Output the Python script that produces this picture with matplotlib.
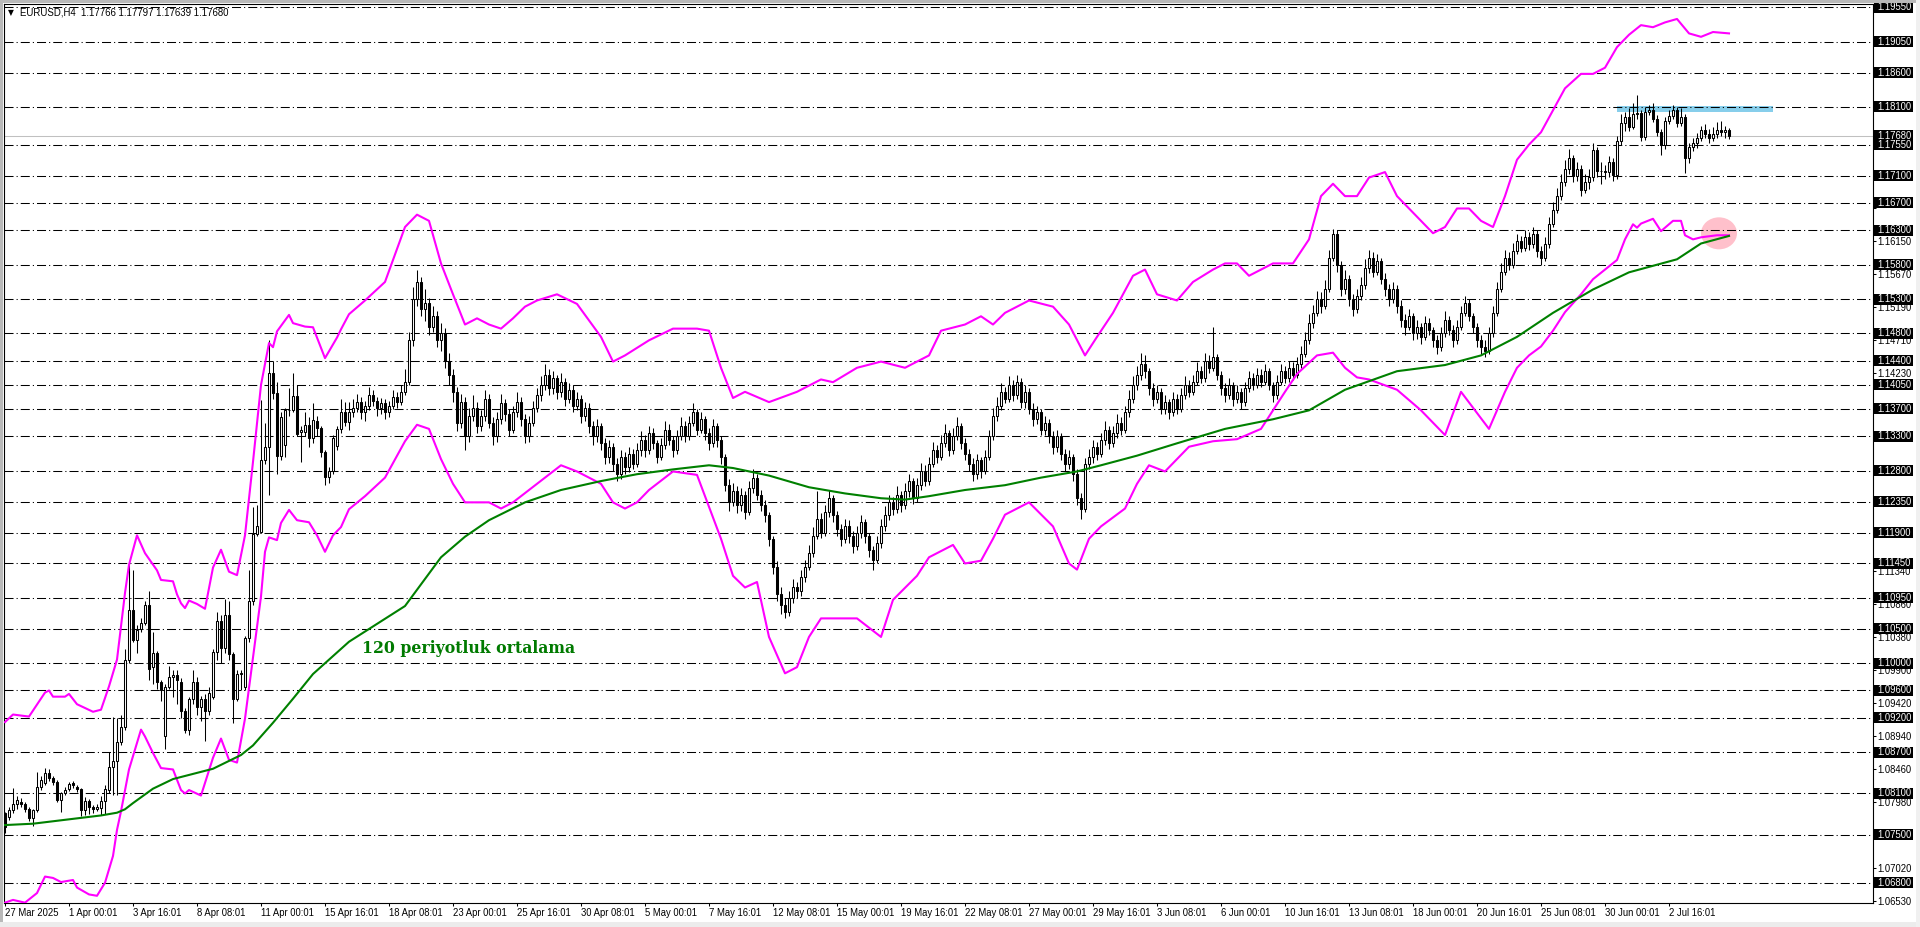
import matplotlib
matplotlib.use("Agg")
import matplotlib.pyplot as plt
from matplotlib.patches import Rectangle, Ellipse
from matplotlib.collections import LineCollection

plt.rcParams['font.family'] = ['Liberation Sans', 'DejaVu Sans']
plt.rcParams['lines.scale_dashes'] = False

# ---------------- data ----------------
SYMBOL = "EURUSD,H4"
LAST_OHLC = ["1.17766", "1.17797", "1.17639", "1.17680"]

OPEN = [
1.0781,1.0776,1.0786,1.0795,1.0797,1.0794,1.0787,1.0775,1.0786,1.0820,
1.0825,1.0840,1.0832,1.0826,1.0801,1.0811,1.0816,1.0825,1.0820,1.0816,
1.0786,1.0799,1.0790,1.0788,1.0789,1.0799,1.0815,1.0849,1.0858,1.0885,
1.0907,1.1004,1.1077,1.1033,1.1049,1.1059,1.1084,1.0994,1.1014,1.0972,
1.0893,1.0965,1.0980,1.0983,1.0972,1.0930,1.0903,1.0948,1.0972,1.0936,
1.0948,1.0930,1.0950,1.1016,1.1061,1.1022,1.1070,1.1013,1.0948,1.0984,
1.0965,1.1037,1.1091,1.1188,1.1191,1.1296,1.1314,1.1423,1.1393,1.1301,
1.1317,1.1368,1.1368,1.1389,1.1336,1.1337,1.1347,1.1328,1.1353,1.1343,
1.1307,1.1271,1.1280,1.1316,1.1341,1.1366,1.1351,1.1366,1.1372,1.1380,
1.1365,1.1374,1.1390,1.1382,1.1371,1.1378,1.1366,1.1375,1.1388,1.1380,
1.1395,1.1410,1.1470,1.1530,1.1555,1.1515,1.1525,1.1490,1.1505,1.1470,
1.1480,1.1440,1.1420,1.1395,1.1350,1.1380,1.1330,1.1360,1.1372,1.1345,
1.1360,1.1385,1.1350,1.1330,1.1355,1.1378,1.1362,1.1340,1.1365,1.1380,
1.1355,1.1330,1.1350,1.1372,1.1390,1.1405,1.1420,1.1400,1.1415,1.1395,
1.1410,1.1385,1.1398,1.1375,1.1385,1.1360,1.1372,1.1345,1.1330,1.1345,
1.1320,1.1300,1.1315,1.1290,1.1275,1.1300,1.1285,1.1305,1.1290,1.1310,
1.1325,1.1310,1.1335,1.1320,1.1300,1.1318,1.1340,1.1325,1.1310,1.1330,
1.1345,1.1330,1.1350,1.1365,1.1340,1.1355,1.1335,1.1320,1.1345,1.1325,
1.1300,1.1260,1.1235,1.1250,1.1230,1.1245,1.1220,1.1255,1.1270,1.1245,
1.1230,1.1215,1.1180,1.1140,1.1100,1.1085,1.1075,1.1095,1.1110,1.1105,
1.1125,1.1140,1.1160,1.1185,1.1210,1.1190,1.1220,1.1240,1.1215,1.1195,
1.1180,1.1200,1.1185,1.1170,1.1190,1.1205,1.1185,1.1165,1.1150,1.1175,
1.1200,1.1215,1.1235,1.1225,1.1245,1.1230,1.1250,1.1265,1.1240,1.1260,
1.1280,1.1265,1.1290,1.1310,1.1300,1.1320,1.1335,1.1310,1.1330,1.1345,
1.1320,1.1305,1.1290,1.1275,1.1295,1.1280,1.1300,1.1330,1.1360,1.1375,
1.1395,1.1385,1.1405,1.1390,1.1410,1.1380,1.1395,1.1370,1.1355,1.1365,
1.1340,1.1350,1.1330,1.1315,1.1330,1.1305,1.1290,1.1300,1.1275,1.1240,
1.1225,1.1290,1.1300,1.1315,1.1305,1.1325,1.1340,1.1320,1.1335,1.1350,
1.1340,1.1365,1.1385,1.1405,1.1420,1.1435,1.1425,1.1400,1.1385,1.1395,
1.1370,1.1380,1.1365,1.1385,1.1370,1.1390,1.1405,1.1395,1.1410,1.1425,
1.1415,1.1440,1.1430,1.1445,1.1420,1.1400,1.1390,1.1405,1.1385,1.1395,
1.1380,1.1400,1.1415,1.1405,1.1420,1.1410,1.1425,1.1405,1.1390,1.1410,
1.1425,1.1415,1.1430,1.1420,1.1435,1.1450,1.1470,1.1495,1.1510,1.1530,
1.1520,1.1545,1.1590,1.1625,1.1580,1.1545,1.1560,1.1530,1.1515,1.1535,
1.1550,1.1575,1.1590,1.1570,1.1585,1.1560,1.1545,1.1530,1.1545,1.1520,
1.1500,1.1490,1.1505,1.1480,1.1490,1.1475,1.1495,1.1485,1.1470,1.1460,
1.1480,1.1500,1.1485,1.1470,1.1490,1.1510,1.1525,1.1505,1.1490,1.1470,
1.1460,1.1455,1.1480,1.1510,1.1545,1.1570,1.1590,1.1580,1.1600,1.1615,
1.1605,1.1620,1.1610,1.1625,1.1600,1.1590,1.1610,1.1640,1.1660,1.1680,
1.1700,1.1720,1.1735,1.1710,1.1720,1.1689,1.1700,1.1708,1.1747,1.1717,
1.1716,1.1715,1.1730,1.1711,1.1761,1.1786,1.1795,1.1781,1.1799,1.1801,
1.1766,1.1803,1.1806,1.1793,1.1774,1.1754,1.1789,1.1796,1.1806,1.1786,
1.1795,1.1736,1.1752,1.1757,1.1764,1.1777,1.1771,1.1765,1.1770,1.1777,
1.1774,1.17766]

HIGH = [
1.0783,1.0790,1.0818,1.0807,1.0803,1.0797,1.0790,1.0788,1.0842,1.0835,
1.0847,1.0845,1.0835,1.0830,1.0812,1.0820,1.0826,1.0828,1.0823,1.0818,
1.0805,1.0802,1.0793,1.0794,1.0806,1.0822,1.0870,1.0922,1.0920,1.0925,
1.1020,1.1144,1.1135,1.1055,1.1065,1.1090,1.1105,1.1045,1.1018,1.0975,
1.0970,1.0995,1.0990,1.0990,1.0978,1.0935,1.0950,1.0990,1.0980,1.0952,
1.0955,1.0965,1.1020,1.1075,1.1070,1.1093,1.1090,1.1016,1.0990,1.0990,
1.1040,1.1135,1.1227,1.1230,1.1383,1.1350,1.1471,1.1440,1.1410,1.1365,
1.1372,1.1400,1.1423,1.1405,1.1345,1.1365,1.1358,1.1378,1.1360,1.1345,
1.1310,1.1285,1.1332,1.1345,1.1385,1.1380,1.1380,1.1385,1.1392,1.1388,
1.1381,1.1402,1.1398,1.1388,1.1386,1.1384,1.1382,1.1398,1.1395,1.1405,
1.1428,1.1482,1.1548,1.1572,1.1562,1.1545,1.1532,1.1520,1.1512,1.1495,
1.1488,1.1452,1.1428,1.1402,1.1392,1.1388,1.1372,1.1390,1.1380,1.1368,
1.1398,1.1392,1.1358,1.1365,1.1392,1.1385,1.1370,1.1375,1.1395,1.1388,
1.1362,1.1360,1.1382,1.1400,1.1418,1.1435,1.1428,1.1425,1.1420,1.1422,
1.1415,1.1408,1.1405,1.1395,1.1390,1.1380,1.1378,1.1352,1.1355,1.1350,
1.1328,1.1325,1.1320,1.1298,1.1310,1.1308,1.1315,1.1312,1.1320,1.1338,
1.1332,1.1345,1.1342,1.1325,1.1328,1.1352,1.1348,1.1330,1.1340,1.1358,
1.1352,1.1360,1.1378,1.1370,1.1365,1.1360,1.1342,1.1355,1.1350,1.1330,
1.1305,1.1268,1.1262,1.1258,1.1255,1.1250,1.1265,1.1282,1.1275,1.1252,
1.1238,1.1220,1.1185,1.1148,1.1110,1.1095,1.1105,1.1122,1.1118,1.1135,
1.1150,1.1172,1.1198,1.1250,1.1218,1.1230,1.1252,1.1245,1.1222,1.1202,
1.1210,1.1208,1.1192,1.1200,1.1215,1.1210,1.1190,1.1170,1.1185,1.1210,
1.1228,1.1245,1.1242,1.1258,1.1250,1.1262,1.1275,1.1270,1.1270,1.1292,
1.1288,1.1300,1.1322,1.1318,1.1332,1.1348,1.1340,1.1342,1.1358,1.1350,
1.1328,1.1312,1.1298,1.1305,1.1300,1.1310,1.1340,1.1372,1.1388,1.1408,
1.1402,1.1418,1.1412,1.1420,1.1415,1.1405,1.1400,1.1378,1.1375,1.1370,
1.1360,1.1355,1.1338,1.1340,1.1335,1.1312,1.1310,1.1305,1.1282,1.1248,
1.1298,1.1312,1.1325,1.1322,1.1335,1.1352,1.1345,1.1345,1.1362,1.1358,
1.1375,1.1398,1.1418,1.1432,1.1452,1.1448,1.1430,1.1408,1.1405,1.1400,
1.1390,1.1385,1.1395,1.1392,1.1400,1.1418,1.1412,1.1420,1.1438,1.1432,
1.1452,1.1448,1.1490,1.1450,1.1425,1.1408,1.1415,1.1410,1.1405,1.1400,
1.1410,1.1425,1.1422,1.1430,1.1428,1.1435,1.1430,1.1410,1.1420,1.1435,
1.1432,1.1440,1.1438,1.1445,1.1462,1.1482,1.1508,1.1522,1.1542,1.1540,
1.1558,1.1602,1.1632,1.1630,1.1585,1.1572,1.1565,1.1538,1.1545,1.1562,
1.1588,1.1602,1.1598,1.1595,1.1590,1.1568,1.1552,1.1555,1.1550,1.1528,
1.1508,1.1515,1.1510,1.1500,1.1495,1.1505,1.1502,1.1490,1.1478,1.1490,
1.1512,1.1505,1.1492,1.1500,1.1520,1.1535,1.1530,1.1510,1.1495,1.1478,
1.1470,1.1490,1.1520,1.1555,1.1582,1.1602,1.1598,1.1612,1.1625,1.1622,
1.1630,1.1628,1.1635,1.1630,1.1608,1.1620,1.1650,1.1672,1.1692,1.1712,
1.1732,1.1748,1.1740,1.1730,1.1725,1.1712,1.1720,1.1758,1.1752,1.1730,
1.1725,1.1738,1.1735,1.1768,1.1800,1.1803,1.1808,1.1815,1.1827,1.1805,
1.1810,1.1812,1.1815,1.1798,1.1778,1.1795,1.1805,1.1813,1.1810,1.1808,
1.1800,1.1758,1.1765,1.1772,1.1782,1.1785,1.1778,1.1780,1.1788,1.1790,
1.1782,1.17797]

LOW = [
1.0752,1.0771,1.0781,1.0788,1.0790,1.0783,1.0770,1.0762,1.0783,1.0815,
1.0822,1.0828,1.0822,1.0798,1.0783,1.0808,1.0813,1.0818,1.0812,1.0777,
1.0778,1.0780,1.0782,1.0785,1.0779,1.0780,1.0810,1.0808,1.0808,1.0880,
1.0903,1.1000,1.1030,1.1015,1.1045,1.1055,1.0975,1.0970,1.0962,1.0945,
1.0875,1.0962,1.0950,1.0940,1.0920,1.0898,1.0895,1.0940,1.0925,1.0915,
1.0887,1.0925,1.0948,1.1005,1.1000,1.1015,1.1005,1.0913,1.0945,1.0960,
1.0960,1.1030,1.1085,1.1185,1.1189,1.1290,1.1245,1.1385,1.1275,1.1295,
1.1300,1.1360,1.1365,1.1330,1.1293,1.1330,1.1315,1.1320,1.1330,1.1300,
1.1260,1.1262,1.1275,1.1310,1.1335,1.1345,1.1340,1.1358,1.1365,1.1355,
1.1352,1.1368,1.1375,1.1360,1.1362,1.1355,1.1358,1.1370,1.1372,1.1376,
1.1390,1.1405,1.1462,1.1520,1.1505,1.1498,1.1478,1.1482,1.1460,1.1455,
1.1430,1.1405,1.1380,1.1338,1.1342,1.1310,1.1322,1.1352,1.1335,1.1338,
1.1352,1.1342,1.1318,1.1322,1.1348,1.1352,1.1330,1.1335,1.1358,1.1345,
1.1320,1.1322,1.1345,1.1365,1.1382,1.1398,1.1390,1.1392,1.1385,1.1388,
1.1375,1.1378,1.1365,1.1368,1.1350,1.1352,1.1335,1.1318,1.1322,1.1310,
1.1290,1.1292,1.1280,1.1265,1.1268,1.1275,1.1278,1.1282,1.1285,1.1302,
1.1300,1.1305,1.1312,1.1292,1.1295,1.1312,1.1318,1.1300,1.1305,1.1325,
1.1322,1.1325,1.1345,1.1332,1.1335,1.1325,1.1310,1.1315,1.1315,1.1290,
1.1250,1.1222,1.1228,1.1218,1.1222,1.1210,1.1215,1.1248,1.1238,1.1222,
1.1205,1.1170,1.1130,1.1090,1.1072,1.1065,1.1068,1.1088,1.1095,1.1098,
1.1118,1.1135,1.1155,1.1180,1.1182,1.1185,1.1212,1.1205,1.1185,1.1170,
1.1175,1.1175,1.1160,1.1165,1.1182,1.1175,1.1155,1.1135,1.1145,1.1168,
1.1192,1.1208,1.1215,1.1218,1.1220,1.1225,1.1242,1.1232,1.1235,1.1252,
1.1258,1.1260,1.1285,1.1292,1.1295,1.1315,1.1302,1.1305,1.1325,1.1312,
1.1295,1.1280,1.1265,1.1268,1.1270,1.1275,1.1295,1.1325,1.1352,1.1368,
1.1378,1.1380,1.1382,1.1385,1.1372,1.1372,1.1362,1.1345,1.1348,1.1332,
1.1332,1.1320,1.1305,1.1308,1.1295,1.1280,1.1282,1.1265,1.1230,1.1210,
1.1220,1.1282,1.1292,1.1295,1.1300,1.1318,1.1312,1.1315,1.1328,1.1332,
1.1335,1.1358,1.1378,1.1398,1.1412,1.1415,1.1390,1.1375,1.1378,1.1362,
1.1362,1.1355,1.1360,1.1362,1.1365,1.1385,1.1388,1.1390,1.1405,1.1408,
1.1410,1.1422,1.1425,1.1412,1.1390,1.1380,1.1385,1.1375,1.1378,1.1370,
1.1375,1.1395,1.1398,1.1400,1.1402,1.1405,1.1398,1.1380,1.1385,1.1405,
1.1408,1.1410,1.1412,1.1415,1.1430,1.1445,1.1465,1.1488,1.1505,1.1510,
1.1515,1.1540,1.1585,1.1570,1.1535,1.1538,1.1520,1.1505,1.1510,1.1528,
1.1545,1.1568,1.1562,1.1565,1.1552,1.1535,1.1520,1.1525,1.1510,1.1490,
1.1478,1.1485,1.1470,1.1472,1.1465,1.1470,1.1478,1.1460,1.1450,1.1455,
1.1475,1.1478,1.1460,1.1465,1.1485,1.1505,1.1498,1.1480,1.1460,1.1450,
1.1445,1.1450,1.1475,1.1505,1.1540,1.1565,1.1572,1.1575,1.1595,1.1598,
1.1600,1.1602,1.1605,1.1592,1.1580,1.1585,1.1605,1.1635,1.1655,1.1675,
1.1695,1.1712,1.1700,1.1702,1.1680,1.1684,1.1690,1.1702,1.1708,1.1698,
1.1705,1.1708,1.1702,1.1705,1.1755,1.1775,1.1775,1.1778,1.1792,1.1760,
1.1762,1.1798,1.1788,1.1768,1.1740,1.1748,1.1785,1.1792,1.1780,1.1782,
1.1714,1.1728,1.1745,1.1750,1.1760,1.1765,1.1758,1.1760,1.1765,1.1768,
1.1765,1.17639]

CLOSE = [
1.0761,1.0786,1.0795,1.0800,1.0794,1.0787,1.0775,1.0786,1.0820,1.0829,
1.0840,1.0832,1.0826,1.0801,1.0810,1.0815,1.0824,1.0822,1.0816,1.0786,
1.0799,1.0790,1.0788,1.0790,1.0799,1.0817,1.0849,1.0858,1.0885,1.0907,
1.1004,1.1077,1.1033,1.1048,1.1059,1.1085,1.0992,1.1014,1.0972,1.0961,
1.0965,1.0980,1.0983,1.0976,1.0930,1.0903,1.0948,1.0972,1.0936,1.0948,
1.0930,1.0957,1.1016,1.1061,1.1022,1.1070,1.1013,1.0948,1.0984,1.0985,
1.1037,1.1091,1.1188,1.1200,1.1296,1.1314,1.1423,1.1393,1.1301,1.1359,
1.1368,1.1369,1.1389,1.1334,1.1340,1.1347,1.1328,1.1354,1.1343,1.1307,
1.1271,1.1280,1.1328,1.1341,1.1366,1.1351,1.1366,1.1372,1.1380,1.1365,
1.1374,1.1390,1.1382,1.1371,1.1378,1.1366,1.1375,1.1388,1.1380,1.1395,
1.1410,1.1470,1.1530,1.1555,1.1515,1.1525,1.1490,1.1505,1.1470,1.1480,
1.1440,1.1420,1.1395,1.1350,1.1380,1.1330,1.1360,1.1372,1.1345,1.1360,
1.1385,1.1350,1.1330,1.1355,1.1378,1.1362,1.1340,1.1365,1.1380,1.1355,
1.1330,1.1350,1.1372,1.1390,1.1405,1.1420,1.1400,1.1415,1.1395,1.1410,
1.1385,1.1398,1.1375,1.1385,1.1360,1.1372,1.1345,1.1330,1.1345,1.1320,
1.1300,1.1315,1.1290,1.1275,1.1300,1.1285,1.1305,1.1290,1.1310,1.1325,
1.1310,1.1335,1.1320,1.1300,1.1318,1.1340,1.1325,1.1310,1.1330,1.1345,
1.1330,1.1350,1.1365,1.1340,1.1355,1.1335,1.1320,1.1345,1.1325,1.1300,
1.1260,1.1235,1.1250,1.1230,1.1245,1.1220,1.1255,1.1270,1.1245,1.1230,
1.1215,1.1180,1.1140,1.1100,1.1085,1.1075,1.1095,1.1110,1.1105,1.1125,
1.1140,1.1160,1.1185,1.1210,1.1190,1.1220,1.1240,1.1215,1.1195,1.1180,
1.1200,1.1185,1.1170,1.1190,1.1205,1.1185,1.1165,1.1150,1.1175,1.1200,
1.1215,1.1235,1.1225,1.1245,1.1230,1.1250,1.1265,1.1240,1.1260,1.1280,
1.1265,1.1290,1.1310,1.1300,1.1320,1.1335,1.1310,1.1330,1.1345,1.1320,
1.1305,1.1290,1.1275,1.1295,1.1280,1.1300,1.1330,1.1360,1.1375,1.1395,
1.1385,1.1405,1.1390,1.1410,1.1380,1.1395,1.1370,1.1355,1.1365,1.1340,
1.1350,1.1330,1.1315,1.1330,1.1305,1.1290,1.1300,1.1275,1.1240,1.1225,
1.1290,1.1300,1.1315,1.1305,1.1325,1.1340,1.1320,1.1335,1.1350,1.1340,
1.1365,1.1385,1.1405,1.1420,1.1435,1.1425,1.1400,1.1385,1.1395,1.1370,
1.1380,1.1365,1.1385,1.1370,1.1390,1.1405,1.1395,1.1410,1.1425,1.1415,
1.1440,1.1430,1.1445,1.1420,1.1400,1.1390,1.1405,1.1385,1.1395,1.1380,
1.1400,1.1415,1.1405,1.1420,1.1410,1.1425,1.1405,1.1390,1.1410,1.1425,
1.1415,1.1430,1.1420,1.1435,1.1450,1.1470,1.1495,1.1510,1.1530,1.1520,
1.1545,1.1590,1.1625,1.1580,1.1545,1.1560,1.1530,1.1515,1.1535,1.1550,
1.1575,1.1590,1.1570,1.1585,1.1560,1.1545,1.1530,1.1545,1.1520,1.1500,
1.1490,1.1505,1.1480,1.1490,1.1475,1.1495,1.1485,1.1470,1.1460,1.1480,
1.1500,1.1485,1.1470,1.1490,1.1510,1.1525,1.1505,1.1490,1.1470,1.1460,
1.1455,1.1480,1.1510,1.1545,1.1570,1.1590,1.1580,1.1600,1.1615,1.1605,
1.1620,1.1610,1.1625,1.1600,1.1590,1.1610,1.1640,1.1660,1.1680,1.1700,
1.1720,1.1735,1.1710,1.1720,1.1689,1.1700,1.1708,1.1747,1.1717,1.1716,
1.1715,1.1730,1.1711,1.1761,1.1786,1.1795,1.1781,1.1799,1.1801,1.1766,
1.1803,1.1806,1.1793,1.1774,1.1754,1.1789,1.1796,1.1806,1.1786,1.1795,
1.1736,1.1752,1.1757,1.1764,1.1777,1.1771,1.1765,1.1770,1.1777,1.1774,
1.1777,1.1768]

# time-axis labels, one every 16 bars
TIME_LABELS = ["27 Mar 2025", "1 Apr 00:01", "3 Apr 16:01", "8 Apr 08:01", "11 Apr 00:01",
               "15 Apr 16:01", "18 Apr 08:01", "23 Apr 00:01", "25 Apr 16:01", "30 Apr 08:01",
               "5 May 00:01", "7 May 16:01", "12 May 08:01", "15 May 00:01", "19 May 16:01",
               "22 May 08:01", "27 May 00:01", "29 May 16:01", "3 Jun 08:01", "6 Jun 00:01",
               "10 Jun 16:01", "13 Jun 08:01", "18 Jun 00:01", "20 Jun 16:01", "25 Jun 08:01",
               "30 Jun 00:01", "2 Jul 16:01"]
LABEL_EVERY = 16

# price-scale ticks
PRICE_TICKS = [1.06530, 1.07020, 1.07500, 1.07980, 1.08460, 1.08940, 1.09420, 1.09900,
               1.10380, 1.10860, 1.11340, 1.11830, 1.12310, 1.12790, 1.13270, 1.13750,
               1.14230, 1.14710, 1.15190, 1.15670, 1.16150, 1.16630, 1.17110, 1.17590,
               1.18070, 1.18550, 1.19030, 1.19510]

# horizontal levels drawn on the chart
LEVELS = [1.19550, 1.19050, 1.18600, 1.18100, 1.17550, 1.17100, 1.16700, 1.16300,
          1.15800, 1.15300, 1.14800, 1.14400, 1.14050, 1.13700, 1.13300, 1.12800,
          1.12350, 1.11900, 1.11450, 1.10950, 1.10500, 1.10000, 1.09600, 1.09200,
          1.08700, 1.08100, 1.07500, 1.06800]
BID = 1.17680

# 120-period moving average (bar index, price)
MA_X = [0, 7, 24, 28, 30, 32, 37, 42, 52, 59, 62, 67, 72, 77, 86, 100, 109, 115, 121, 130,
        139, 149, 158, 167, 176, 182, 191, 201, 210, 219, 225, 231, 240, 250, 259, 268, 274,
        283, 293, 305, 317, 326, 335, 348, 360, 369, 378, 387, 397, 406, 418, 424, 431]
MA_Y = [1.0764, 1.0766, 1.0778, 1.0782, 1.0787, 1.0796, 1.0817, 1.0831, 1.0846, 1.0866,
        1.0880, 1.0913, 1.0948, 1.0984, 1.1031, 1.1083, 1.1154, 1.1184, 1.1208, 1.1234,
        1.1252, 1.1265, 1.1275, 1.1282, 1.1288, 1.1284, 1.1273, 1.1256, 1.1247, 1.1240,
        1.1238, 1.1243, 1.1252, 1.1259, 1.1270, 1.1279, 1.1288, 1.1302, 1.1320, 1.1341,
        1.1355, 1.1368, 1.1398, 1.1425, 1.1434, 1.1448, 1.1475, 1.1510, 1.1544, 1.1569,
        1.1588, 1.1611, 1.1622]

# upper band (bar index, price)
UP_X = [0, 2, 6, 10, 11, 12, 15, 16, 18, 22, 24, 26, 28, 30, 31, 33, 35, 38, 39, 42, 43, 44,
        45, 46, 48, 50, 52, 54, 56, 58, 60, 62, 64, 66, 67, 68, 71, 72, 75, 77, 78, 80, 83, 84,
        86, 90, 95, 100, 103, 106, 109, 112, 115, 118, 121, 124, 127, 130, 133, 138, 143, 149,
        152, 155, 161, 167, 173, 176, 179, 182, 185, 191, 198, 204, 207, 213, 219, 225, 231,
        234, 240, 244, 247, 250, 256, 262, 266, 270, 273, 277, 282, 285, 288, 293, 297, 302,
        305, 308, 311, 314, 317, 322, 326, 329, 332, 335, 338, 341, 345, 348, 351, 354, 357,
        360, 363, 366, 369, 372, 375, 378, 381, 384, 387, 390, 394, 397, 400, 403, 406, 409,
        412, 415, 418, 421, 424, 427, 431]
UP_Y = [1.0914, 1.0925, 1.0922, 1.0957, 1.0960, 1.0951, 1.0951, 1.0955, 1.0940, 1.0929,
        1.0932, 1.0966, 1.1005, 1.1102, 1.1143, 1.1186, 1.1160, 1.1135, 1.1121, 1.1119,
        1.1100, 1.1087, 1.1080, 1.1091, 1.1086, 1.1079, 1.1139, 1.1165, 1.1133, 1.1128,
        1.1186, 1.1293, 1.1405, 1.1466, 1.1460, 1.1483, 1.1507, 1.1495, 1.1490, 1.1489,
        1.1474, 1.1444, 1.1474, 1.1486, 1.1508, 1.1528, 1.1555, 1.1635, 1.1653, 1.1644,
        1.1582, 1.1537, 1.1493, 1.1502, 1.1493, 1.1487, 1.1502, 1.1519, 1.1528, 1.1537,
        1.1523, 1.1475, 1.1439, 1.1448, 1.1470, 1.1487, 1.1487, 1.1484, 1.1430, 1.1386,
        1.1395, 1.1380, 1.1395, 1.1413, 1.1409, 1.1430, 1.1439, 1.1430, 1.1448, 1.1484,
        1.1493, 1.1505, 1.1493, 1.1510, 1.1528, 1.1519, 1.1493, 1.1448, 1.1475, 1.1510,
        1.1564, 1.1573, 1.1537, 1.1528, 1.1555, 1.1573, 1.1582, 1.1582, 1.1564, 1.1573,
        1.1582, 1.1582, 1.1617, 1.1680, 1.1698, 1.1680, 1.1680, 1.1707, 1.1715, 1.1680,
        1.1662, 1.1644, 1.1626, 1.1635, 1.1662, 1.1662, 1.1644, 1.1635, 1.1680, 1.1733,
        1.1755, 1.1773, 1.1805, 1.1837, 1.1858, 1.1858, 1.1867, 1.1897, 1.1915, 1.1929,
        1.1926, 1.1933, 1.1938, 1.1917, 1.1912, 1.1919, 1.1917]

# lower band (bar index, price)
LO_X = [0, 2, 5, 8, 10, 12, 14, 17, 18, 21, 23, 25, 27, 28, 29, 31, 34, 35, 37, 39, 42, 44,
        45, 46, 49, 52, 54, 56, 58, 60, 62, 64, 65, 66, 68, 69, 71, 73, 76, 78, 80, 82, 84, 86,
        90, 95, 100, 103, 106, 109, 112, 115, 118, 121, 124, 127, 133, 139, 143, 149, 152, 155,
        158, 161, 167, 173, 179, 182, 185, 188, 191, 195, 198, 201, 204, 207, 213, 219, 222,
        228, 231, 237, 240, 244, 247, 250, 256, 262, 266, 268, 271, 274, 280, 283, 286, 290,
        293, 296, 302, 308, 314, 317, 320, 323, 328, 332, 335, 338, 341, 348, 354, 360, 364,
        371, 375, 378, 381, 384, 387, 390, 394, 397, 400, 403, 405, 407, 408, 409, 412, 414,
        417, 419, 420, 422, 424, 428, 431]
LO_Y = [1.0651, 1.0655, 1.0651, 1.0665, 1.0689, 1.0687, 1.0681, 1.0684, 1.0673, 1.0663,
        1.0661, 1.0680, 1.0719, 1.0757, 1.0784, 1.0845, 1.0903, 1.0893, 1.0869, 1.0847,
        1.0845, 1.0815, 1.0810, 1.0815, 1.0807, 1.0862, 1.0890, 1.0859, 1.0855, 1.0919,
        1.1008, 1.1097, 1.1162, 1.1183, 1.1179, 1.1204, 1.1223, 1.1208, 1.1205, 1.1186,
        1.1162, 1.1186, 1.1198, 1.1224, 1.1243, 1.1270, 1.1323, 1.1347, 1.1341, 1.1297,
        1.1261, 1.1234, 1.1234, 1.1234, 1.1225, 1.1234, 1.1261, 1.1288, 1.1279, 1.1261,
        1.1234, 1.1225, 1.1234, 1.1252, 1.1279, 1.1274, 1.1181, 1.1127, 1.1110, 1.1118,
        1.1038, 1.0985, 1.0994, 1.1038, 1.1065, 1.1065, 1.1065, 1.1038, 1.1092, 1.1127,
        1.1154, 1.1172, 1.1145, 1.1149, 1.1181, 1.1216, 1.1234, 1.1199, 1.1145, 1.1136,
        1.1181, 1.1199, 1.1225, 1.1261, 1.1288, 1.1279, 1.1297, 1.1315, 1.1323, 1.1326,
        1.1341, 1.1368, 1.1395, 1.1421, 1.1448, 1.1452, 1.1430, 1.1416, 1.1413, 1.1398,
        1.1368, 1.1332, 1.1395, 1.1341, 1.1395, 1.1430, 1.1448, 1.1461, 1.1484, 1.1511,
        1.1537, 1.1559, 1.1573, 1.1587, 1.1617, 1.1639, 1.1634, 1.1640, 1.1647, 1.1629,
        1.1644, 1.1644, 1.1623, 1.1617, 1.1620, 1.1623, 1.1623]

ZONE_BARS = (403, 442)          # blue zone, bar range
ZONE_PRICES = (1.1802, 1.1811)  # blue zone, price range
MARK_BAR = 428.5                # pink marker centre
MARK_PRICE = 1.16258
MA_NOTE = "120 periyotluk ortalama"

# ---------------- figure ----------------
W, H = 1920, 927
fig = plt.figure(figsize=(W / 100, H / 100), dpi=100)
fig.patch.set_facecolor("white")

L_PX, R_PX, T_PX, B_PX = 4, 1873, 4, 903
ax = fig.add_axes([L_PX / W, (H - B_PX) / H, (R_PX - L_PX) / W, (B_PX - T_PX) / H])
ax.set_facecolor("white")
ax.set_xlim(-0.25, 467)
ax.set_ylim(1.06505, 1.19598)

for s in ax.spines.values():
    s.set_color("black")
    s.set_linewidth(0.8)

# blue zone & pink marker (background objects)
ax.add_patch(Rectangle((ZONE_BARS[0], ZONE_PRICES[0]), ZONE_BARS[1] - ZONE_BARS[0],
                       ZONE_PRICES[1] - ZONE_PRICES[0], facecolor="#87CEEB",
                       edgecolor="none", zorder=1))
px_per_bar = (R_PX - L_PX) / (467 + 0.25)
px_per_price = (B_PX - T_PX) / (1.19598 - 1.06505)
ax.add_patch(Ellipse((MARK_BAR, MARK_PRICE), 36 / px_per_bar, 32 / px_per_price,
                     facecolor="#FFC0CB", edgecolor="none", zorder=1))

# horizontal levels
dash = (0, (6.5, 2.2, 0.8, 2.2))
for lv in LEVELS:
    ax.axhline(lv, color="black", lw=0.75, linestyle=dash, zorder=1.5)
ax.axhline(BID, color="#C0C0C0", lw=0.75, zorder=1.5)

# candles
n = len(CLOSE)
xs = list(range(n))
wicks = [[(i, LOW[i]), (i, HIGH[i])] for i in xs]
ax.add_collection(LineCollection(wicks, colors="black", linewidths=0.75, zorder=2))
heights = [CLOSE[i] - OPEN[i] for i in xs]
bottoms = [OPEN[i] for i in xs]
fcols = ["white" if CLOSE[i] >= OPEN[i] else "black" for i in xs]
ax.bar(xs, heights, bottom=bottoms, width=0.5, color=fcols, edgecolor="black",
       linewidth=0.75, zorder=3)

# indicators
ax.plot(UP_X, UP_Y, color="#FF00FF", lw=1.5, zorder=4, solid_joinstyle="round")
ax.plot(LO_X, LO_Y, color="#FF00FF", lw=1.5, zorder=4, solid_joinstyle="round")
ax.plot(MA_X, MA_Y, color="#008000", lw=1.5, zorder=4.5, solid_joinstyle="round")

# note
ax.text((362 - L_PX) / (R_PX - L_PX), (B_PX - 653) / (B_PX - T_PX), MA_NOTE,
        transform=ax.transAxes, family="DejaVu Serif", fontweight="bold", fontsize=11.3,
        color="#007A00", ha="left", va="baseline", zorder=6)

# header
fig.text(10.5 / W, 1 - 12.5 / H, "\u25BC", fontsize=5.5, family="DejaVu Sans",
         ha="center", va="center", color="black")
fig.text(20 / W, 1 - 12.5 / H, SYMBOL + "  " + " ".join(LAST_OHLC), fontsize=6.9,
         ha="left", va="center", color="black")

# time axis
ax.set_xticks(list(range(0, n, LABEL_EVERY)))
ax.set_xticklabels(TIME_LABELS, ha="left")
ax.tick_params(axis="x", direction="out", length=2.2, width=0.75, pad=1.6,
               labelsize=6.85, colors="black")

# price axis: scale labels that sit under a level tag are hidden by the tag
tagged = LEVELS + [BID]
ax.yaxis.tick_right()
ax.set_yticks(PRICE_TICKS)
ax.set_yticklabels(["" if min(abs(p - t) for t in tagged) * px_per_price < 5.5
                    else "%.5f" % p for p in PRICE_TICKS])
ax.tick_params(axis="y", direction="out", length=2.2, width=0.75, pad=1.2,
               labelsize=6.85, colors="black")


def ypix(p):
    return ax.transData.transform((0, p))[1]


def level_tag(p):
    yp = ypix(p)
    fig.add_artist(Rectangle((1874 / W, (yp - 5.5) / H), 39 / W, 11 / H,
                             transform=fig.transFigure, facecolor="black",
                             edgecolor="none", zorder=5))
    fig.text(1877 / W, yp / H, "%.5f" % p, color="white", fontsize=6.85,
             ha="left", va="center", zorder=6)


level_tag(BID)
for lv in LEVELS:
    level_tag(lv)

# window frame
fig.add_artist(Rectangle((0, 0), 3 / W, 1, transform=fig.transFigure,
                         facecolor="#B9B9B9", edgecolor="none", zorder=7))
fig.add_artist(Rectangle((0, 1 - 3 / H), 1, 3 / H, transform=fig.transFigure,
                         facecolor="#B9B9B9", edgecolor="none", zorder=7))
fig.add_artist(Rectangle((0, 0), 1, 5 / H, transform=fig.transFigure,
                         facecolor="#ECECEC", edgecolor="none", zorder=7))
fig.add_artist(Rectangle((1 - 4 / W, 0), 4 / W, 1, transform=fig.transFigure,
                         facecolor="#F0F0F0", edgecolor="none", zorder=7))

fig.savefig("out.png", dpi=100, facecolor="white")
